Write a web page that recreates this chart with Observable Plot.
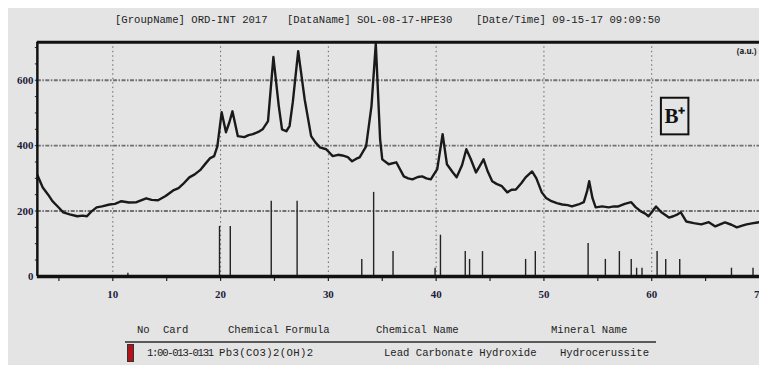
<!DOCTYPE html>
<html><head><meta charset="utf-8">
<script src="https://cdn.jsdelivr.net/npm/d3@7"></script>
<script src="https://cdn.jsdelivr.net/npm/@observablehq/plot@0.6"></script>
<style>
html,body{margin:0;padding:0;}
body{background:#fff;overflow:hidden;width:759px;height:365px;position:relative;}
#bg{position:absolute;left:8px;top:8px;right:0;bottom:0;background:#e4e4e4;}
#chart{position:absolute;left:0;top:0;}
.t{position:absolute;white-space:pre;font-family:"Liberation Mono",monospace;font-size:10.6px;color:#222;line-height:12px;}
#sep{position:absolute;left:125px;top:341px;width:531px;height:1.5px;background:#5a5a5a;}
#marker{position:absolute;left:127px;top:344px;width:5px;height:16px;background:#b3141b;border:1px solid #333;}
</style></head><body>
<div id="bg"></div>
<div id="chart"></div>
<div id="sep"></div>
<div id="marker"></div>
<script>
// ---- data ----
const titleParts = ["[GroupName] ORD-INT 2017", "[DataName] SOL-08-17-HPE30", "[Date/Time] 09-15-17 09:09:50"];
const tableHeaders = ["No", "Card", "Chemical Formula", "Chemical Name", "Mineral Name"];
const tableRow = ["1:00-013-0131", "Pb3(CO3)2(OH)2", "Lead Carbonate Hydroxide", "Hydrocerussite"];

const twoTheta = [3.0,3.5,4.0,4.4,5.0,5.4,6.0,6.7,7.2,7.6,8.0,8.5,9.0,9.7,10.2,10.8,11.5,12.2,13.1,13.6,14.2,14.9,15.6,16.1,16.5,17.1,17.6,18.1,18.6,19.0,19.4,19.7,20.1,20.5,20.8,21.1,21.6,22.2,22.6,23.0,23.5,23.9,24.4,24.9,25.4,25.7,26.1,26.4,26.7,27.2,27.8,28.4,28.8,29.2,29.8,30.4,30.9,31.3,31.8,32.2,32.6,32.9,33.5,34.0,34.4,34.8,35.0,35.6,36.3,37.0,37.4,37.8,38.3,38.7,39.1,39.5,40.1,40.6,41.0,41.5,41.9,42.4,42.8,43.2,43.7,44.0,44.4,44.8,45.2,45.6,46.1,46.6,47.0,47.4,47.9,48.3,48.9,49.3,49.8,50.2,50.7,51.2,51.7,52.2,52.6,53.2,53.7,54.0,54.2,54.5,54.8,55.4,56.0,56.5,56.9,57.5,58.1,58.5,59.0,59.4,59.7,60.0,60.4,60.9,61.3,61.6,62.0,62.3,62.7,63.2,63.9,64.6,65.3,65.9,66.4,66.8,67.4,67.9,68.4,68.8,69.3,69.8,70.0];
const intensity = [310,272,250,230,210,196,190,184,186,184,198,211,214,220,222,230,226,227,239,234,233,246,263,270,282,303,312,325,345,361,368,398,502,441,470,505,429,426,432,435,442,450,475,671,521,450,444,460,533,689,542,429,410,395,389,368,372,370,365,352,360,364,398,521,712,420,358,343,349,306,300,297,304,306,300,297,328,435,343,320,303,340,389,360,318,335,358,320,291,283,276,257,265,266,285,303,321,300,257,240,230,224,220,218,214,220,227,260,291,240,211,214,211,214,214,222,227,212,199,192,184,196,214,196,187,180,184,188,196,168,163,159,166,153,160,165,158,150,155,159,162,165,166];

const stickPos = [11.4,19.9,20.9,24.7,27.1,33.1,34.2,36.0,39.9,40.4,42.7,43.1,44.3,48.3,49.2,54.1,55.7,57.0,58.1,58.6,59.1,60.5,61.3,62.6,67.4,69.4];
const stickInt = [10,153,153,230,230,52,257,76,25,126,76,52,76,52,76,101,52,76,52,25,25,76,52,52,25,25];

const xTickLabels = [10,20,30,40,50,60,70];
const yTickLabels = [0,200,400,600];
const yGrid = [200,400,600];
const annotation = [{label:"B\u207A", x:62.15, y:489, x1:60.9, x2:63.45, y1:433, y2:545}];
const unitLabel = ["(a.u.)"];

// ---- build ----
const curve = twoTheta.map((x,i)=>({x, y:intensity[i]}));
const sticks = stickPos.map((x,i)=>({x, y:stickInt[i]}));
const labelFont = {fontFamily:"Liberation Serif, serif", fontWeight:"bold", fontSize:11, fill:"#1c1c3c"};

const plot = Plot.plot({
  width: 762, height: 300,
  marginLeft: 37, marginRight: 0, marginTop: 42, marginBottom: 23,
  x: {domain:[3,70]},
  y: {domain:[0,716]},
  style: {background:"transparent", overflow:"visible"},
  marks: [
    Plot.ruleX(xTickLabels.filter(d=>d<70), {stroke:"#666", strokeWidth:1, strokeDasharray:"1.5,3"}),
    Plot.ruleY(yGrid, {stroke:"#707070", strokeWidth:1.8, strokeDasharray:"4,1.5,1.5,1.5"}),
    Plot.ruleX(sticks, {x:"x", y1:0, y2:"y", stroke:"#222", strokeWidth:1.4}),
    Plot.line(curve, {x:"x", y:"y", stroke:"#1a1a1a", strokeWidth:2.4, clip:true}),
    Plot.axisX(d3.range(4,70,1), {tickSize:2, text:null, stroke:"#222"}),
    Plot.axisX(d3.range(5,70,5), {tickSize:5, text:null, stroke:"#222", strokeWidth:1.2}),
    Plot.axisX(xTickLabels, {tickSize:0, tickPadding:14, ...labelFont}),
    Plot.axisY(d3.range(50,716,50), {tickSize:2, text:null, stroke:"#222"}),
    Plot.axisY(yTickLabels, {tickSize:0, tickPadding:4, ...labelFont}),
    Plot.ruleY([0], {stroke:"#111", strokeWidth:3.5}),
    Plot.ruleY([716], {stroke:"#111", strokeWidth:3}),
    Plot.ruleX([3], {stroke:"#111", strokeWidth:2.5}),
    Plot.rect(annotation, {x1:"x1", x2:"x2", y1:"y1", y2:"y2", fill:"none", stroke:"#111", strokeWidth:2}),
    Plot.text(annotation, {x:"x", y:"y", text:"label", fontSize:21, fontFamily:"Liberation Serif, serif", fontWeight:"bold", fill:"#111"}),
    Plot.text(unitLabel, {text:d=>d, frameAnchor:"top-right", dx:-3, dy:6, fontSize:8, fontWeight:"bold", fill:"#222"})
  ]
});
document.getElementById("chart").appendChild(plot);

// ---- text blocks ----
function place(txt, left, top, spacing){
  const d = document.createElement("div");
  d.className = "t"; d.textContent = txt;
  d.style.left = left + "px"; d.style.top = top + "px";
  if (spacing) d.style.letterSpacing = spacing + "px";
  document.body.appendChild(d);
}
const titleX = [115, 287, 476];
titleParts.forEach((t,i)=>place(t, titleX[i], 14));
const headX = [137, 163, 228, 376, 551];
tableHeaders.forEach((t,i)=>place(t, headX[i], 324));
const rowX = [147, 219, 384, 560];
const rowSpacing = [-1.3, 0.4, 0, 0];
tableRow.forEach((t,i)=>place(t, rowX[i], 347, rowSpacing[i]));
</script>
</body></html>
